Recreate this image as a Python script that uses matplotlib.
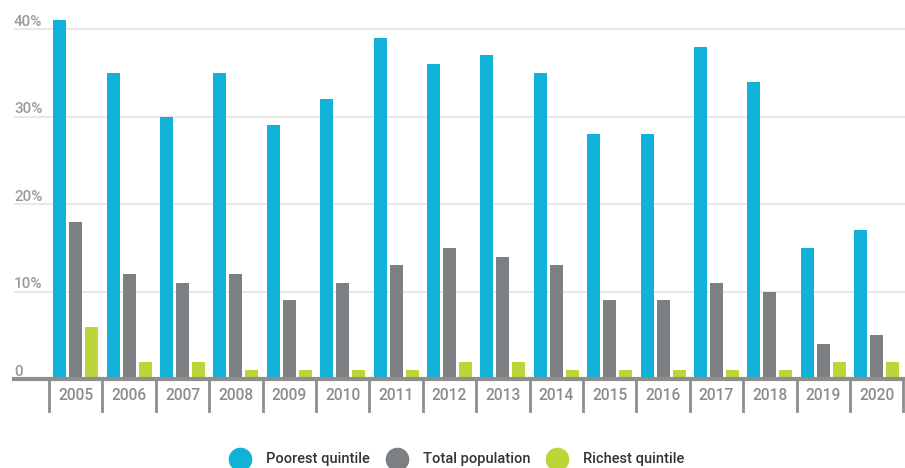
import matplotlib
matplotlib.use("Agg")
import matplotlib.pyplot as plt
from matplotlib.lines import Line2D
import numpy as np

years = ["2005", "2006", "2007", "2008", "2009", "2010", "2011", "2012",
         "2013", "2014", "2015", "2016", "2017", "2018", "2019", "2020"]
poorest = [41, 35, 30, 35, 29, 32, 39, 36, 37, 35, 28, 28, 38, 34, 15, 17]
total = [18, 12, 11, 12, 9, 11, 13, 15, 14, 13, 9, 9, 11, 10, 4, 5]
richest = [6, 2, 2, 1, 1, 1, 1, 2, 2, 1, 1, 1, 1, 1, 2, 2]
series_names = ["Poorest quintile", "Total population", "Richest quintile"]
yticks = [0, 10, 20, 30, 40]
ytick_labels = ["0", "10%", "20%", "30%", "40%"]

colors = ["#10b2d7", "#7c8083", "#bdd539"]

plt.rcParams['font.family'] = ['Roboto', 'DejaVu Sans']

W, H = 905, 468
fig = plt.figure(figsize=(W / 100, H / 100), dpi=100)
ax_left, ax_right = 14 / W, 905 / W
ax_bottom = (H - 379) / H
ax_top = (H - 15) / H
ax = fig.add_axes([ax_left, ax_bottom, ax_right - ax_left, ax_top - ax_bottom])

x = np.arange(len(years))
bw = 0.245
step = 0.30
for i, (vals, c) in enumerate(zip([poorest, total, richest], colors)):
    ax.bar(x + (i - 1) * step, vals, width=bw, color=c, zorder=3)

ax.set_xlim(-1.155, 15.53)
ax.set_ylim(0, 41.6)

for s in ax.spines.values():
    s.set_visible(False)
ax.set_xticks([])
ax.set_yticks([])

# gridlines
for t in yticks[1:]:
    ax.axhline(t, color="#e8e8e8", lw=1.5, zorder=1)
# baseline
ax.axhline(0, color="#8e8e8e", lw=3, zorder=4, clip_on=False)

# y labels
for t, lab in zip(yticks, ytick_labels):
    ax.annotate(lab, xy=(0, t), xycoords=('axes fraction', 'data'),
                xytext=(0, 2.5), textcoords='offset points',
                ha='left', va='baseline', fontsize=11, color="#9a9a9a",
                fontweight='medium')

# category separators and labels
trans = ax.get_xaxis_transform()
for b in np.arange(len(years) + 1) - 0.5:
    ax.add_line(Line2D([b, b], [0, -32 / 364], transform=trans,
                       color="#8e8e8e", lw=2, clip_on=False, zorder=4))
for xi, lab in zip(x, years):
    ax.text(xi, -16 / 364, lab, transform=trans, ha='center', va='center',
            fontsize=11.2, color="#8c8c8c", fontweight='medium')

# legend
leg_y = (H - 459) / H
circle_x = [240, 397, 557]
for cx, c, name in zip(circle_x, colors, series_names):
    fig.add_artist(Line2D([cx / W], [leg_y], marker='o', markersize=16,
                          color=c, linestyle='none', transform=fig.transFigure))
    fig.text((cx + 26) / W, leg_y, name, ha='left', va='center',
             fontsize=10.5, color="#333333", fontweight='medium')

fig.savefig("out.png", dpi=100)
